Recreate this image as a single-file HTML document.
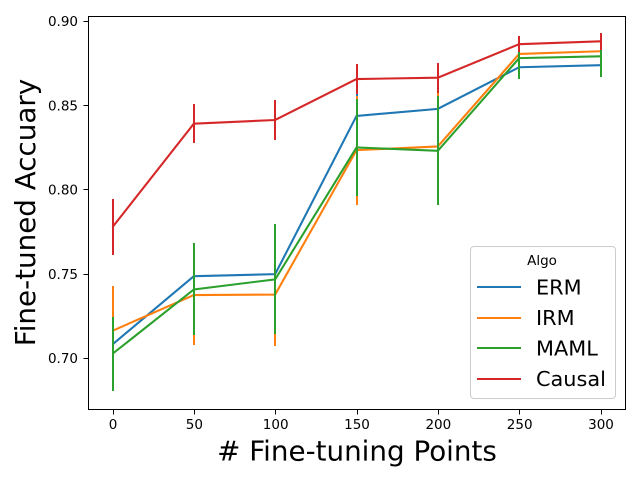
<!DOCTYPE html>
<html>
<head>
<meta charset="utf-8">
<title>Fine-tuned Accuracy Chart</title>
<style>
html,body{margin:0;padding:0;background:#fff;width:640px;height:480px;overflow:hidden}
svg{display:block}
text{font-family:"DejaVu Sans","Liberation Sans",sans-serif;fill:#000}
</style>
</head>
<body>
<svg id="chart" width="640" height="480" viewBox="0 0 640 480" xmlns="http://www.w3.org/2000/svg">
<rect x="0" y="0" width="640" height="480" fill="#fff"/>
<g id="marks"></g>
<rect x="88.5" y="16.5" width="537" height="393" fill="none" stroke="#000" stroke-width="1"/>
<g id="axes"></g>
<text x="357" y="460.5" font-size="27.78" text-anchor="middle">&#35; Fine-tuning Points</text>
<text transform="translate(35,212.5) rotate(-90)" font-size="27.78" text-anchor="middle">Fine-tuned Accuary</text>
<g>
<rect x="470.5" y="246.5" width="145" height="152" rx="3.5" fill="#fff" fill-opacity="0.8" stroke="#ccc" stroke-width="1"/>
<text x="542" y="265" font-size="13.5" text-anchor="middle">Algo</text>
<g id="legend-entries"></g>
</g>
</svg>
<script>
const xValues = [0, 50, 100, 150, 200, 250, 300];
const xTickLabels = [0, 50, 100, 150, 200, 250, 300];
const yTickValues = [0.70, 0.75, 0.80, 0.85, 0.90];
const seriesNames = ["ERM", "IRM", "MAML", "Causal"];
const seriesColors = ["#1f77b4", "#ff7f0e", "#2ca02c", "#d62728"];
const ermMeans = [0.7080, 0.7485, 0.7497, 0.8436, 0.8478, 0.8725, 0.8737];
const ermErrors = [0.0150, 0.0180, 0.0200, 0.0135, 0.0200, 0.0060, 0.0060];
const irmMeans = [0.7161, 0.7373, 0.7376, 0.8233, 0.8255, 0.8804, 0.8820];
const irmErrors = [0.0265, 0.0297, 0.0303, 0.0324, 0.0322, 0.0100, 0.0100];
const mamlMeans = [0.7024, 0.7406, 0.7466, 0.8249, 0.8229, 0.8779, 0.8790];
const mamlErrors = [0.0219, 0.0273, 0.0326, 0.0287, 0.0323, 0.0125, 0.0123];
const causalMeans = [0.7776, 0.8390, 0.8412, 0.8655, 0.8663, 0.8862, 0.8879];
const causalErrors = [0.0166, 0.0114, 0.0119, 0.0087, 0.0089, 0.0048, 0.0050];
const allMeans = [ermMeans, irmMeans, mamlMeans, causalMeans];
const allErrors = [ermErrors, irmErrors, mamlErrors, causalErrors];

const NS = "http://www.w3.org/2000/svg";
const LINE_W = 2.08;
function xScale(v) { return 112.5 + v * 488 / 300; }
function yScale(v) { return 357.9 + (v - 0.70) * (20.9 - 357.9) / 0.20; }
function make(tag, parent) {
  const el = document.createElementNS(NS, tag);
  parent.appendChild(el);
  return el;
}
const marks = document.getElementById("marks");
const axes = document.getElementById("axes");
const legendEntries = document.getElementById("legend-entries");

seriesNames.forEach(function (name, s) {
  const slug = name.toLowerCase();
  const group = make("g", marks);
  
  
  const line = make("polyline", group);
  
  
  line.setAttribute("points", xValues.map(function (x, i) {
    return xScale(x) + "," + yScale(allMeans[s][i]);
  }).join(" "));
  line.setAttribute("fill", "none");
  line.setAttribute("stroke", seriesColors[s]);
  line.setAttribute("stroke-width", LINE_W);
  xValues.forEach(function (x, i) {
    const bar = make("line", group);
    
    
    bar.setAttribute("x1", Math.round(xScale(x)));
    bar.setAttribute("x2", Math.round(xScale(x)));
    bar.setAttribute("y1", Math.round(yScale(allMeans[s][i] - allErrors[s][i])));
    bar.setAttribute("y2", Math.round(yScale(allMeans[s][i] + allErrors[s][i])));
    bar.setAttribute("stroke", seriesColors[s]);
    bar.setAttribute("stroke-width", 2);
  });

  const rowBaseline = [294.4, 325, 355.6, 386][s];
  const rowLine = [287, 318, 348, 379][s];
  const handle = make("line", legendEntries);
  
  
  handle.setAttribute("x1", 477);
  handle.setAttribute("x2", 521);
  handle.setAttribute("y1", rowLine);
  handle.setAttribute("y2", rowLine);
  handle.setAttribute("stroke", seriesColors[s]);
  handle.setAttribute("stroke-width", 2);
  const label = make("text", legendEntries);
  
  
  label.setAttribute("x", 536);
  label.setAttribute("y", rowBaseline);
  label.setAttribute("font-size", 20.83);
  label.textContent = name;
});

xValues.forEach(function (x, i) {
  const tickX = Math.round(xScale(x)) + 0.5;
  const tick = make("line", axes);
  
  
  tick.setAttribute("x1", tickX);
  tick.setAttribute("x2", tickX);
  tick.setAttribute("y1", 409.5);
  tick.setAttribute("y2", 414.5);
  tick.setAttribute("stroke", "#000");
  tick.setAttribute("stroke-width", 1);
  const label = make("text", axes);
  
  
  label.setAttribute("x", xScale(x) + 0.5);
  label.setAttribute("y", 429);
  label.setAttribute("font-size", 13.5);
  label.setAttribute("text-anchor", "middle");
  label.textContent = xTickLabels[i];
});

yTickValues.forEach(function (v) {
  const tickY = Math.round(yScale(v)) + 0.5;
  const tick = make("line", axes);
  
  
  tick.setAttribute("x1", 83.5);
  tick.setAttribute("x2", 88.5);
  tick.setAttribute("y1", tickY);
  tick.setAttribute("y2", tickY);
  tick.setAttribute("stroke", "#000");
  tick.setAttribute("stroke-width", 1);
  const label = make("text", axes);
  
  
  label.setAttribute("x", 78);
  label.setAttribute("y", yScale(v) + 5.2);
  label.setAttribute("font-size", 13.5);
  label.setAttribute("text-anchor", "end");
  label.textContent = v.toFixed(2);
});
</script>
</body>
</html>
